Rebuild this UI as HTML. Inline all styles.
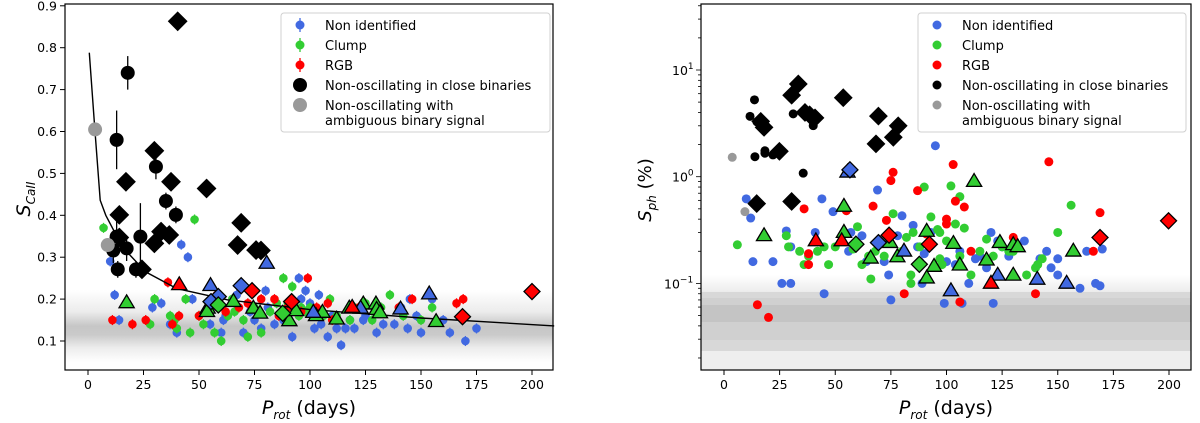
<!DOCTYPE html>
<html><head><meta charset="utf-8"><style>
html,body{margin:0;padding:0;background:#fff}
svg{display:block;font-family:"DejaVu Sans","Liberation Sans",sans-serif}
</style></head><body>
<svg id="c" width="1200" height="423" viewBox="0 0 1200 423" xmlns="http://www.w3.org/2000/svg">
<defs>
<linearGradient id="bandL" x1="0" y1="0" x2="0" y2="1">
<stop offset="0" stop-color="#fff"/><stop offset="0.3" stop-color="#ececec"/><stop offset="0.5" stop-color="#c6c6c6"/><stop offset="0.62" stop-color="#cacaca"/><stop offset="0.8" stop-color="#ececec"/><stop offset="1" stop-color="#fff"/>
</linearGradient>
<linearGradient id="bandR" x1="0" y1="0" x2="0" y2="1">
<stop offset="0" stop-color="#fff"/><stop offset="1" stop-color="#ececec"/>
</linearGradient>
</defs>
<g id="left"></g>
<g id="right"></g>
</svg>
<script>
// ---------- LEFT PANEL DATA (S_CaII) ----------
const L_blueP=[10,12,14,29,33,37,42,45,47,58,61,62,75,78,70,81,84,88,92,96,100,104,108,110,114,116,120,124,130,138,141,145,150,155,160,163,170,175,60,98,112,73,67,102,86,125,133,148,95,105,118,144,40,55,80];
const L_blueS=[0.29,0.21,0.15,0.18,0.19,0.14,0.33,0.30,0.20,0.20,0.15,0.16,0.15,0.13,0.12,0.18,0.14,0.15,0.11,0.20,0.19,0.21,0.11,0.16,0.09,0.13,0.13,0.15,0.12,0.14,0.18,0.20,0.12,0.20,0.15,0.12,0.10,0.13,0.12,0.22,0.13,0.17,0.21,0.13,0.16,0.16,0.14,0.16,0.25,0.14,0.15,0.13,0.12,0.14,0.22];
const L_greenP=[7,30,28,37,39,40,44,46,48,50,52,57,60,63,66,70,72,78,85,88,92,96,100,104,109,112,118,120,128,136,142,150,155,65,75,82,90,98,106,125,132,95];
const L_greenS=[0.37,0.20,0.14,0.16,0.15,0.13,0.20,0.12,0.39,0.16,0.14,0.12,0.10,0.16,0.17,0.15,0.11,0.12,0.19,0.25,0.23,0.18,0.18,0.17,0.20,0.16,0.15,0.18,0.15,0.21,0.16,0.15,0.18,0.20,0.18,0.17,0.19,0.17,0.16,0.19,0.18,0.16];
const L_redP=[11,20,26,36,38,41,50,62,68,72,78,84,86,96,99,103,108,110,122,140,146,166,169,58,90];
const L_redS=[0.15,0.14,0.15,0.24,0.14,0.16,0.16,0.17,0.18,0.19,0.20,0.20,0.16,0.17,0.25,0.18,0.19,0.15,0.18,0.18,0.20,0.19,0.20,0.21,0.18];
const L_binDiaP=[40.4,29.9,17.1,37.4,53.4,14.1,69,32.9,36.6,14.1,29.9,67.4,75.7,77.9,24.3];
const L_binDiaS=[0.863,0.554,0.48,0.48,0.464,0.401,0.382,0.361,0.353,0.347,0.333,0.329,0.317,0.316,0.271];
const L_binCirP=[17.9,12.9,30.6,35.1,39.6,23.6,12.9,11.4,17.4,13.4,21.6];
const L_binCirS=[0.74,0.58,0.516,0.434,0.401,0.349,0.349,0.316,0.321,0.271,0.271];
const L_binCirE=[0.04,0.07,0.03,0.02,0.02,0.08,0.04,0.03,0.03,0.02,0.02];
const L_grayP=[3.2,8.9];
const L_grayS=[0.605,0.329];
const L_diaBlueP=[69,58.7,55.4], L_diaBlueS=[0.232,0.206,0.194];
const L_diaGreenP=[58.7,87.7], L_diaGreenS=[0.186,0.166];
const L_diaRedP=[73.9,91.7,200,168.7], L_diaRedS=[0.22,0.194,0.218,0.158];
const L_triGreenP=[17.4,65.5,53.9,53.6,74.5,77.5,90.7,93.7,102.7,105.6,112,117.7,124,129.7,130,131.5,156.8];
const L_triGreenS=[0.191,0.194,0.178,0.17,0.178,0.166,0.148,0.172,0.16,0.168,0.152,0.178,0.188,0.188,0.175,0.167,0.146];
const L_triBlueP=[55.2,80.5,101.5,122.8,140.8,153.7], L_triBlueS=[0.232,0.285,0.168,0.178,0.176,0.212];
const L_triRedP=[41.1,119], L_triRedS=[0.234,0.18];
const L_curveP=[0.6,3,5.5,8,12,18,26,40,63,100,150,210];
const L_curveS=[0.788,0.61,0.436,0.4,0.36,0.31,0.265,0.225,0.198,0.175,0.155,0.136];
const L_xticks=[0,25,50,75,100,125,150,175,200];
const L_yticks=[0.1,0.2,0.3,0.4,0.5,0.6,0.7,0.8,0.9];

// ---------- RIGHT PANEL DATA (S_ph %) ----------
const R_blueP=[10,12,13,22,26,28,30,41,44,49,57,69,72,74,78,85,95,100,106,110,115,118,120,123,125,128,30,56,62,64,80,88,89,99,107,121,142,147,145,150,160,163,167,169,170,90,93,104,113,135,45,75,87,150];
const R_blueS=[0.62,0.41,0.16,0.16,0.10,0.31,0.22,0.30,0.62,0.47,0.30,0.75,0.16,0.12,0.28,0.35,1.95,0.16,0.20,0.10,0.18,0.14,0.30,0.25,0.22,0.18,0.10,0.20,0.28,0.16,0.43,0.16,0.10,0.065,0.065,0.065,0.17,0.14,0.20,0.17,0.09,0.20,0.10,0.095,0.21,0.19,0.30,0.15,0.17,0.25,0.08,0.07,0.22,0.12];
const R_greenP=[6,28,29,34,36,38,42,45,47,50,58,60,62,65,68,72,76,80,82,85,88,90,93,97,100,102,106,108,111,115,118,121,125,128,136,140,141,143,150,156,66,84,84,98,104,96,106,97,130,60];
const R_greenS=[0.23,0.28,0.22,0.20,0.15,0.18,0.20,0.22,0.15,0.22,0.21,0.23,0.15,0.18,0.20,0.18,0.45,0.20,0.27,0.30,0.22,0.80,0.42,0.30,0.25,0.82,0.65,0.33,0.12,0.20,0.26,0.18,0.22,0.20,0.12,0.14,0.15,0.17,0.30,0.54,0.11,0.10,0.12,0.15,0.36,0.32,0.18,0.17,0.20,0.34];
const R_redP=[15,20,36,38,38,55,67,75,76,73,81,87,91,100,100,103,104,108,111,106,140,146,166,169,130,88];
const R_redS=[0.063,0.048,0.50,0.19,0.15,0.48,0.53,0.92,1.1,0.39,0.08,0.74,0.29,0.40,0.36,1.3,0.59,0.52,0.20,0.067,0.08,1.38,0.20,0.46,0.27,0.15];
const R_binDiaP=[33.4,30.4,53.6,36.4,40.9,69.4,78.3,18,76.1,68.3,24.9,14.7,30.4,16.5,38.5];
const R_binDiaS=[7.4,5.8,5.5,4.0,3.56,3.7,3.0,2.9,2.34,2.03,1.73,0.56,0.586,3.3,3.8];
const R_binCirP=[13.7,11.7,31.1,40.1,13.9,18.4,35.6,14.8,22,18.4];
const R_binCirS=[5.25,3.68,3.88,3.01,1.54,1.66,1.08,3.27,1.6,1.75];
const R_grayP=[3.7,9.4], R_grayS=[1.52,0.47];
const R_diaBlueP=[56.6,69.4], R_diaBlueS=[1.16,0.241];
const R_diaGreenP=[59.3,87.8], R_diaGreenS=[0.233,0.151];
const R_diaRedP=[74.2,92.3,169,199.8], R_diaRedS=[0.283,0.233,0.269,0.386];
const R_triGreenP=[18,53.9,53.9,65.9,74.6,77.9,91.1,94.4,91.1,103.1,106,112.4,118,124,130,132,130,157];
const R_triGreenS=[0.279,0.526,0.30,0.172,0.241,0.177,0.307,0.144,0.112,0.236,0.148,0.90,0.165,0.241,0.23,0.22,0.119,0.2];
const R_triBlueP=[80.9,102,123,140.8,154,55.5], R_triBlueS=[0.2,0.085,0.119,0.109,0.1,1.1];
const R_triRedP=[41.3,52.9,120], R_triRedS=[0.25,0.25,0.1];
const R_xticks=[0,25,50,75,100,125,150,175,200];

const NS="http://www.w3.org/2000/svg";
const BLUE="#4169e1",GREEN="#32cd32",RED="#ff0000";
function mk(parent,tag,attrs,text){const e=document.createElementNS(NS,tag);for(const k in attrs)e.setAttribute(k,attrs[k]);if(text!==undefined)e.textContent=text;parent.appendChild(e);return e;}

// axis functions
const xL=p=>88+p*2.22, yL=s=>341-(s-0.1)*419;
const xR=p=>724+p*2.225, yR=s=>176.7-Math.log10(s)*106.7;

const gL=document.getElementById('left'), gR=document.getElementById('right');

// ---------- backgrounds ----------
let b=mk(gL,'rect',{x:65,y:290,width:488,height:72,fill:'url(#bandL)'});


b=mk(gR,'rect',{x:701,y:275,width:490,height:17,fill:'url(#bandR)'});


[[292,351,'#d8d8d8'],[298,340,'#d0d0d0'],[305,322,'#c4c4c4'],[351,370,'#eeeeee']].forEach(r=>{
 const e=mk(gR,'rect',{x:701,y:r[0],width:490,height:r[1]-r[0],fill:r[2]});
 
 
});

// ---------- marker helpers ----------
function dot(g,x,y,c,r,name,op){const e=mk(g,'circle',{cx:x,cy:y,r:r,fill:c,'fill-opacity':op||1});return e;}
function dia(g,x,y,c,s,name,stroke){const e=mk(g,'polygon',{points:`${x},${y-s} ${x+s},${y} ${x},${y+s} ${x-s},${y}`,fill:c,stroke:stroke||'#000','stroke-width':1.3});return e;}
function tri(g,x,y,c,s,name){const e=mk(g,'polygon',{points:`${x},${y-s} ${x+s*0.95},${y+s*0.6} ${x-s*0.95},${y+s*0.6}`,fill:c,stroke:'#000','stroke-width':1.3});return e;}
function ebar(g,x,y1,y2,c){const e=mk(g,'line',{x1:x,x2:x,y1:y1,y2:y2,stroke:c,'stroke-width':1.3});}

// ---------- LEFT marks ----------
function leftDots(P,S,c,name){P.forEach((p,i)=>{const x=xL(p),y=yL(S[i]);ebar(gL,x,yL(S[i]+0.012),yL(S[i]-0.012),c);dot(gL,x,y,c,4.3,name);});}
leftDots(L_blueP,L_blueS,BLUE,'point-non-identified');
leftDots(L_greenP,L_greenS,GREEN,'point-clump');
leftDots(L_redP,L_redS,RED,'point-rgb');
// curve
let d='';L_curveP.forEach((p,i)=>{d+=(i?'L':'M')+xL(p).toFixed(1)+','+yL(L_curveS[i]).toFixed(1);});
let cv=mk(gL,'path',{d:d,fill:'none',stroke:'#000','stroke-width':1.4});


L_binCirP.forEach((p,i)=>{ebar(gL,xL(p),yL(L_binCirS[i]+L_binCirE[i]),yL(L_binCirS[i]-L_binCirE[i]),'#000');dot(gL,xL(p),yL(L_binCirS[i]),'#000',7,'point-close-binary');});
L_binDiaP.forEach((p,i)=>dia(gL,xL(p),yL(L_binDiaS[i]),'#000',9,'diamond-close-binary'));
L_grayP.forEach((p,i)=>dot(gL,xL(p),yL(L_grayS[i]),'#999',7,'point-ambiguous-binary'));
L_triGreenP.forEach((p,i)=>tri(gL,xL(p),yL(L_triGreenS[i]),GREEN,8,'triangle-clump'));
L_triBlueP.forEach((p,i)=>tri(gL,xL(p),yL(L_triBlueS[i]),BLUE,8,'triangle-non-identified'));
L_triRedP.forEach((p,i)=>tri(gL,xL(p),yL(L_triRedS[i]),RED,8,'triangle-rgb'));
L_diaBlueP.forEach((p,i)=>dia(gL,xL(p),yL(L_diaBlueS[i]),BLUE,8,'diamond-non-identified'));
L_diaGreenP.forEach((p,i)=>dia(gL,xL(p),yL(L_diaGreenS[i]),GREEN,8,'diamond-clump'));
L_diaRedP.forEach((p,i)=>dia(gL,xL(p),yL(L_diaRedS[i]),RED,8,'diamond-rgb'));

// ---------- RIGHT marks ----------
R_blueP.forEach((p,i)=>dot(gR,xR(p),yR(R_blueS[i]),BLUE,4.5,'point-non-identified'));
R_greenP.forEach((p,i)=>dot(gR,xR(p),yR(R_greenS[i]),GREEN,4.5,'point-clump'));
R_redP.forEach((p,i)=>dot(gR,xR(p),yR(R_redS[i]),RED,4.5,'point-rgb'));
R_binCirP.forEach((p,i)=>dot(gR,xR(p),yR(R_binCirS[i]),'#000',4.5,'point-close-binary'));
R_grayP.forEach((p,i)=>dot(gR,xR(p),yR(R_grayS[i]),'#999',4.5,'point-ambiguous-binary'));
R_binDiaP.forEach((p,i)=>dia(gR,xR(p),yR(R_binDiaS[i]),'#000',8.5,'diamond-close-binary'));
R_triGreenP.forEach((p,i)=>tri(gR,xR(p),yR(R_triGreenS[i]),GREEN,8,'triangle-clump'));
R_triBlueP.forEach((p,i)=>tri(gR,xR(p),yR(R_triBlueS[i]),BLUE,8,'triangle-non-identified'));
R_triRedP.forEach((p,i)=>tri(gR,xR(p),yR(R_triRedS[i]),RED,8,'triangle-rgb'));
R_diaBlueP.forEach((p,i)=>dia(gR,xR(p),yR(R_diaBlueS[i]),BLUE,8,'diamond-non-identified'));
R_diaGreenP.forEach((p,i)=>dia(gR,xR(p),yR(R_diaGreenS[i]),GREEN,8,'diamond-clump'));
R_diaRedP.forEach((p,i)=>dia(gR,xR(p),yR(R_diaRedS[i]),RED,8,'diamond-rgb'));

// ---------- axes ----------
function frame(g,x0,x1,y0,y1){const e=mk(g,'rect',{x:x0,y:y0,width:x1-x0,height:y1-y0,fill:'none',stroke:'#000','stroke-width':1.2});}
frame(gL,65,553,4,370);
frame(gR,701,1191,4,370);
function txt(g,x,y,s,size,anchor,name){const e=mk(g,'text',{x:x,y:y,'font-size':size,'text-anchor':anchor||'middle',fill:'#000'},s);return e;}
L_xticks.forEach(t=>{const x=xL(t);mk(gL,'line',{x1:x,x2:x,y1:370,y2:375,stroke:'#000'});txt(gL,x,389,String(t),12.5,'middle','x-tick-label');});
L_yticks.forEach(t=>{const y=yL(t);mk(gL,'line',{x1:60,x2:65,y1:y,y2:y,stroke:'#000'});txt(gL,57,y+4.5,t.toFixed(1),12.5,'end','y-tick-label');});
R_xticks.forEach(t=>{const x=xR(t);mk(gR,'line',{x1:x,x2:x,y1:370,y2:375,stroke:'#000'});txt(gR,x,389,String(t),12.5,'middle','x-tick-label');});
[-2,-1,0,1].forEach(k=>{for(let m=1;m<10;m++){const v=m*Math.pow(10,k);const y=yR(v);if(y<4||y>370)continue;mk(gR,'line',{x1:m==1?696:698,x2:701,y1:y,y2:y,stroke:'#000','stroke-width':0.8});}});
[[1,'1'],[0,'0'],[-1,'−1']].forEach(([k,s])=>{const y=yR(Math.pow(10,k));const t=txt(gR,689,y+5,'10',12.5,'end','y-tick-label');const sp=mk(t,'tspan',{dy:-6,'font-size':9},s);});
// fix exponent placement: shift base left
Array.from(gR.querySelectorAll('text')).filter(t=>t.textContent.startsWith('10')&&t.querySelector('tspan')).forEach(t=>{t.setAttribute('text-anchor','start');const k=t.querySelector('tspan').textContent;t.setAttribute('x',k==='−1'?664:672);});

// axis titles
let yt=mk(gL,'text',{x:0,y:0,'font-size':19,'text-anchor':'middle',transform:'translate(30,199) rotate(-90)'});

yt.innerHTML='<tspan font-style="italic">S</tspan><tspan font-size="12" dy="5" font-style="italic">CaII</tspan>';
let yt2=mk(gR,'text',{x:0,y:0,'font-size':18,'text-anchor':'middle',transform:'translate(651,190) rotate(-90)'});

yt2.innerHTML='<tspan font-style="italic">S</tspan><tspan font-size="12" dy="5" font-style="italic">ph</tspan><tspan dy="-5"> (%)</tspan>';
[[gL,309],[gR,946]].forEach(([g,x])=>{const t=mk(g,'text',{x:x,y:414,'font-size':19,'text-anchor':'middle'});t.innerHTML='<tspan font-style="italic">P</tspan><tspan font-size="12" dy="5" font-style="italic">rot</tspan><tspan dy="-5"> (days)</tspan>';});

// ---------- legends ----------
function legend(g,x0,x1,errbars,big){
 const r=mk(g,'rect',{x:x0,y:13,width:x1-x0,height:119,rx:3,fill:'#fff','fill-opacity':0.85,stroke:'#d0d0d0'});
 
 const items=[[BLUE,'Non identified',25],[GREEN,'Clump',45],[RED,'RGB',65],['#000','Non-oscillating in close binaries',85],['#999','Non-oscillating with',105]];
 items.forEach(([c,s,y],i)=>{const mx=x0+19;const rad=(big&&i>=3)?7:4.5;if(errbars)ebar(g,mx,y-7,y+7,c);dot(g,mx,y,c,rad,'legend-marker');txt(g,x0+44,y+5,s,13,'start','legend-label');});
 txt(g,x0+44,125,'ambiguous binary signal',13,'start','legend-label');
}
legend(gL,281,550,true,true);
legend(gR,918,1186,false,false);
</script>
</body></html>
